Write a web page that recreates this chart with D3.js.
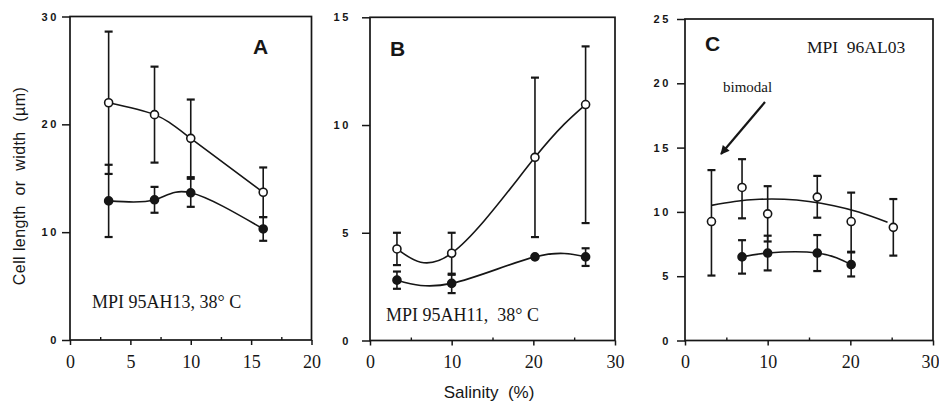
<!DOCTYPE html>
<html><head><meta charset="utf-8">
<script src="https://cdn.jsdelivr.net/npm/d3@7"></script>
<style>body{margin:0;background:#fff}svg{display:block}</style>
</head><body><svg id="c" width="939" height="407"></svg>
<script>
// ---------- Panel A data ----------
const aX = [3.2, 7, 10, 16];
const aLen = [22.0, 20.9, 18.7, 13.7];
const aLenLo = [15.4, 16.45, 15.1, 11.4];
const aLenHi = [28.6, 25.35, 22.3, 16.0];
const aWid = [12.9, 13.0, 13.65, 10.3];
const aWidLo = [9.55, 11.8, 12.35, 9.2];
const aWidHi = [16.25, 14.2, 14.95, 11.4];
const aYTicks = [0, 10, 20, 30];
const aXTicks = [0, 5, 10, 15, 20];
const aXMinor = [2.5, 7.5, 12.5, 17.5];

// ---------- Panel B data ----------
const bX = [3.3, 10, 20.2, 26.4];
const bLen = [4.25, 4.05, 8.5, 10.95];
const bLenLo = [3.5, 3.1, 4.8, 5.45];
const bLenHi = [5.0, 5.0, 12.2, 13.65];
const bWid = [2.8, 2.65, 3.88, 3.88];
const bWidLo = [2.4, 2.2, null, 3.46];
const bWidHi = [3.2, 3.05, null, 4.28];
const bYTicks = [0, 5, 10, 15];
const bXTicks = [0, 10, 20, 30];
const bXMinor = [5, 15, 25];

// ---------- Panel C data ----------
const cLenX = [3.2, 6.9, 10, 16, 20.1, 25.2];
const cLen = [9.25, 11.9, 9.85, 11.15, 9.25, 8.8];
const cLenLo = [5.05, 9.5, 7.7, 9.55, 6.9, 6.6];
const cLenHi = [13.25, 14.1, 12.0, 12.8, 11.5, 11.0];
const cWidX = [6.9, 10, 16, 20.1];
const cWid = [6.5, 6.8, 6.8, 5.9];
const cWidLo = [5.2, 5.45, 5.4, 4.98];
const cWidHi = [7.8, 8.15, 8.2, 6.85];
const cFitX = [3.2, 6, 9, 12, 15, 18, 21, 24.5];
const cFitY = [10.51, 10.81, 10.98, 10.98, 10.81, 10.48, 9.99, 9.2];
const cYTicks = [0, 5, 10, 15, 20, 25];
const cXTicks = [0, 10, 20, 30];
const cXMinor = [5, 15, 25];

const INK = "#161616";
const svg = d3.select("#c");

function zip(xs, ys, lo, hi) {
  return xs.map((x, i) => ({x, y: ys[i], lo: lo ? lo[i] : null, hi: hi ? hi[i] : null}));
}

const panels = [
  {x0: 70, x1: 311.5, yb: 340, yt: 16.5, xMax: 20, yMax: 30, yTicks: aYTicks, xTicks: aXTicks, xMinor: aXMinor, yPad: 3, lastDx: 0,
   series: [
     {pts: zip(aX, aLen, aLenLo, aLenHi), open: true, curve: zip(aX, aLen)},
     {pts: zip(aX, aWid, aWidLo, aWidHi), open: false, curve: zip(aX, aWid)}
   ]},
  {x0: 370, x1: 615, yb: 340.5, yt: 17.3, xMax: 30, yMax: 15, yTicks: bYTicks, xTicks: bXTicks, xMinor: bXMinor, yPad: 11, lastDx: 0,
   series: [
     {pts: zip(bX, bLen, bLenLo, bLenHi), open: true, curve: zip(bX, bLen)},
     {pts: zip(bX, bWid, bWidLo, bWidHi), open: false, curve: zip(bX, bWid)}
   ]},
  {x0: 685, x1: 933, yb: 340.5, yt: 19, xMax: 30, yMax: 25, yTicks: cYTicks, xTicks: cXTicks, xMinor: cXMinor, yPad: 6, lastDx: -3,
   series: [
     {pts: zip(cLenX, cLen, cLenLo, cLenHi), open: true, curve: zip(cFitX, cFitY)},
     {pts: zip(cWidX, cWid, cWidLo, cWidHi), open: false, curve: zip(cWidX, cWid)}
   ]}
];

panels.forEach(p => {
  const x = d3.scaleLinear().domain([0, p.xMax]).range([p.x0, p.x1]);
  const y = d3.scaleLinear().domain([0, p.yMax]).range([p.yb, p.yt]);
  const g = svg.append("g");

  // frame
  g.append("rect").attr("x", p.x0).attr("y", p.yt).attr("width", p.x1 - p.x0).attr("height", p.yb - p.yt)
    .attr("fill", "none").attr("stroke", INK).attr("stroke-width", 1.7);

  // y axis
  const ya = g.append("g").attr("transform", `translate(${p.x0},0)`)
    .call(d3.axisLeft(y).tickValues(p.yTicks).tickSize(8).tickPadding(p.yPad).tickFormat(d3.format("d")));
  ya.select(".domain").remove();
  ya.selectAll("line").attr("stroke", INK).attr("stroke-width", 1.5);
  ya.selectAll("text").attr("fill", INK).style("font-family", "Liberation Sans, Arial, sans-serif")
    .style("font-weight", "bold").style("font-size", "11px").style("letter-spacing", "2.6px");

  // x axis major
  const xa = g.append("g").attr("transform", `translate(0,${p.yb})`)
    .call(d3.axisBottom(x).tickValues(p.xTicks).tickSize(5).tickPadding(10).tickFormat(d3.format("d")));
  xa.select(".domain").remove();
  xa.selectAll("line").attr("stroke", INK).attr("stroke-width", 1.5);
  xa.selectAll("text").attr("fill", INK).style("font-family", "Liberation Serif, Times New Roman, serif")
    .style("font-size", "18px")
    .attr("dx", (d, i, n) => i === n.length - 1 ? p.lastDx : 0);

  // x axis minor (inward)
  const xm = g.append("g").attr("transform", `translate(0,${p.yb})`)
    .call(d3.axisBottom(x).tickValues(p.xMinor).tickSize(-3).tickFormat(""));
  xm.select(".domain").remove();
  xm.selectAll("line").attr("stroke", INK).attr("stroke-width", 1.4);

  // series
  const line = d3.line().x(d => x(d.x)).y(d => y(d.y)).curve(d3.curveNatural);
  p.series.forEach(s => {
    g.append("path").attr("d", line(s.curve)).attr("fill", "none").attr("stroke", INK).attr("stroke-width", 1.6);
  });
  p.series.forEach(s => {
    const eb = s.pts.filter(d => d.lo != null);
    g.selectAll(null).data(eb).enter().append("line")
      .attr("x1", d => x(d.x)).attr("x2", d => x(d.x)).attr("y1", d => y(d.lo)).attr("y2", d => y(d.hi))
      .attr("stroke", INK).attr("stroke-width", 1.6);
    ["lo", "hi"].forEach(k => {
      g.selectAll(null).data(eb).enter().append("line")
        .attr("x1", d => x(d.x) - 4).attr("x2", d => x(d.x) + 4).attr("y1", d => y(d[k])).attr("y2", d => y(d[k]))
        .attr("stroke", INK).attr("stroke-width", 2.2);
    });
  });
  p.series.forEach(s => {
    g.selectAll(null).data(s.pts).enter().append("circle")
      .attr("cx", d => x(d.x)).attr("cy", d => y(d.y)).attr("r", 4)
      .attr("fill", s.open ? "#fff" : INK).attr("stroke", INK).attr("stroke-width", 1.6);
  });
});

// Panel letters
const letters = [["A", 253, 54], ["B", 390, 56], ["C", 705, 51]];
letters.forEach(([t, lx, ly]) => {
  svg.append("text").attr("x", lx).attr("y", ly).text(t).attr("fill", INK)
    .style("font-family", "Liberation Sans, Arial, sans-serif").style("font-weight", "bold").style("font-size", "21px");
});

// Annotations
const serif = "Liberation Serif, Times New Roman, serif";
svg.append("text").attr("x", 92).attr("y", 308).text("MPI 95AH13, 38° C").attr("fill", INK)
  .style("font-family", serif).style("font-size", "18px");
svg.append("text").attr("x", 386).attr("y", 321).text("MPI 95AH11,  38° C").attr("fill", INK)
  .style("font-family", serif).style("font-size", "18px").style("white-space", "pre");
svg.append("text").attr("x", 807).attr("y", 53).text("MPI  96AL03").attr("fill", INK)
  .style("font-family", serif).style("font-size", "17.5px").style("white-space", "pre");
svg.append("text").attr("x", 723).attr("y", 92).text("bimodal").attr("fill", INK)
  .style("font-family", serif).style("font-size", "15px");

// arrow
svg.append("defs").append("marker").attr("id", "ah").attr("viewBox", "0 0 10 10").attr("refX", 9).attr("refY", 5)
  .attr("markerWidth", 13).attr("markerHeight", 9).attr("markerUnits", "userSpaceOnUse").attr("orient", "auto")
  .append("path").attr("d", "M0,0 L10,5 L0,10 Z").attr("fill", INK);
svg.append("line").attr("x1", 765).attr("y1", 102).attr("x2", 721).attr("y2", 154)
  .attr("stroke", INK).attr("stroke-width", 2.2).attr("marker-end", "url(#ah)");

// axis titles
svg.append("text").attr("transform", "translate(25,186) rotate(-90)").attr("text-anchor", "middle")
  .text("Cell length  or  width  (µm)").attr("fill", INK).style("white-space", "pre")
  .style("font-family", "Liberation Sans, Arial, sans-serif").style("font-size", "16px").style("letter-spacing", "0.4px");
svg.append("text").attr("x", 489).attr("y", 398).attr("text-anchor", "middle")
  .text("Salinity  (%)").attr("fill", INK).style("white-space", "pre")
  .style("font-family", "Liberation Sans, Arial, sans-serif").style("font-size", "17px");
</script></body></html>
